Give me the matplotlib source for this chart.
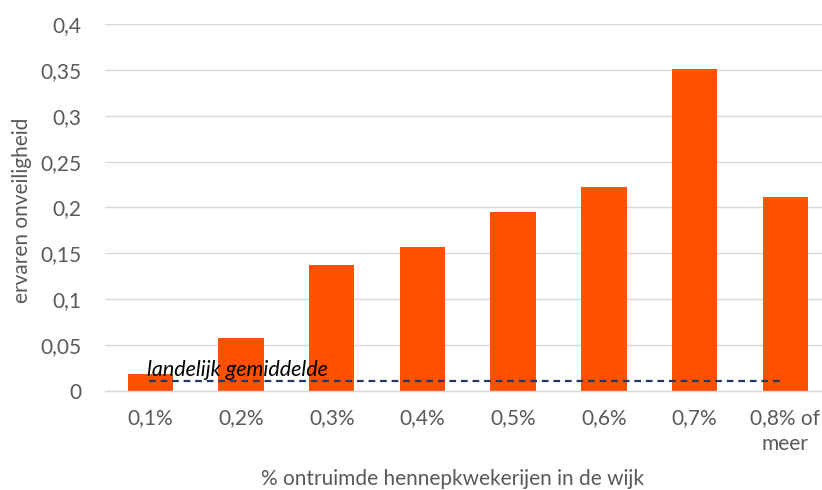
import matplotlib
matplotlib.use("Agg")
from matplotlib import pyplot as plt
import numpy as np

plt.rcParams['font.family'] = ['Lato', 'DejaVu Sans']

categories = ['0,1%', '0,2%', '0,3%', '0,4%', '0,5%', '0,6%', '0,7%', '0,8% of\nmeer']
values = [0.0185, 0.058, 0.137, 0.157, 0.195, 0.222, 0.351, 0.211]
national_avg = 0.011
yticks = [0, 0.05, 0.1, 0.15, 0.2, 0.25, 0.3, 0.35, 0.4]
ytick_labels = ['0', '0,05', '0,1', '0,15', '0,2', '0,25', '0,3', '0,35', '0,4']

grey = '#595959'
fs = 15
fig = plt.figure(figsize=(8.22, 4.9), dpi=100)
ax = fig.add_axes([105/822, 99/490, 1 - 105/822, 367/490])

x = np.arange(len(categories))
ax.bar(x, values, width=0.5, color='#FF5000', zorder=2)
ax.plot([-0.02, 6.97], [national_avg, national_avg], ls=(0, (3, 2.2)), color='#1F3864', lw=1.6, zorder=3)
ax.text(-0.04, national_avg + 0.001, 'landelijk gemiddelde', style='italic', fontsize=15.5,
        color='black', va='bottom', ha='left', zorder=4)

ax.set_xlim(-0.5, 7.405)
ax.set_ylim(0, 0.4)
ax.set_xticks(x)
ax.set_xticklabels(categories, fontsize=fs, color=grey, linespacing=1.4, va='top')
ax.set_yticks(yticks)
ax.set_yticklabels(ytick_labels, fontsize=fs, color=grey)
ax.tick_params(axis='x', length=0, pad=12)
ax.tick_params(axis='y', length=0, pad=17)
ax.grid(axis='y', color='#D9D9D9', lw=1, zorder=0)
for s in ['top', 'right', 'left']:
    ax.spines[s].set_visible(False)
ax.spines['bottom'].set_color('#D9D9D9')
ax.spines['bottom'].set_linewidth(1)

fig.text(0.027, 0.571, 'ervaren onveiligheid', rotation=90, fontsize=fs, color=grey,
         ha='center', va='center')
fig.text(0.551, 0.022, '% ontruimde hennepkwekerijen in de wijk', fontsize=fs, color=grey,
         ha='center', va='center')

fig.savefig('out.png', dpi=100)
